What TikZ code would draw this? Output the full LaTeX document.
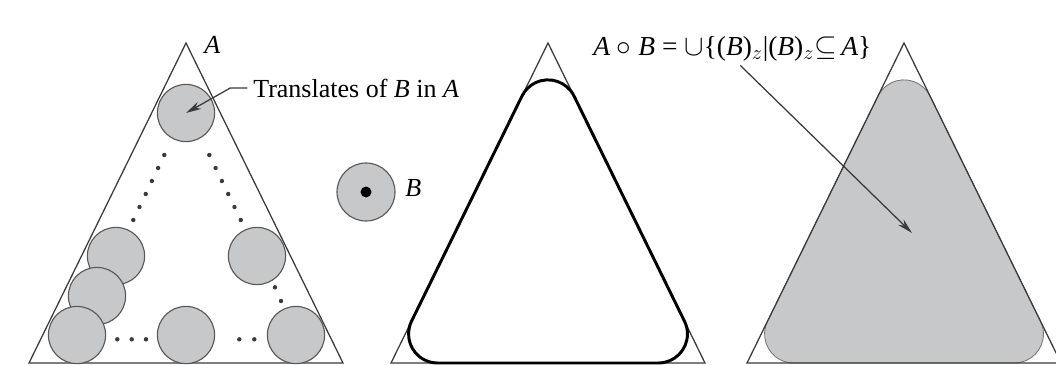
\documentclass[tikz,border=0pt]{standalone}
\usepackage{fontspec}
\setmainfont{Liberation Serif}
\usetikzlibrary{arrows.meta}
\definecolor{discgray}{HTML}{C6C8CA}
\definecolor{ink}{HTML}{3A3A3A}

\tikzset{
  side/.style={draw=ink, line width=0.9pt},
  disc/.style={circle, draw=ink!85, line width=0.8pt, fill=discgray, inner sep=0pt, minimum size=1.43cm},
  opening/.style={line width=2.1pt, line join=round},
  label/.style={font=\fontsize{18.5}{22}\selectfont, inner sep=0pt},
  pointer/.style={->, draw=ink, line width=0.9pt},
}

\begin{document}
\begin{tikzpicture}[x=0.025cm, y=0.025cm, >={Stealth[length=11pt,width=5.5pt]}]
  \useasboundingbox (0,0) rectangle (1056,364);

  % opening of A by B, filled (right)
  \filldraw[fill=discgray, draw=ink!70, line width=0.6pt, shift={(904,1)}]
    (-110.44,0) -- (110.44,0) arc[start angle=-90,end angle=26.13,radius=29]
    -- (26.04,266.91) arc[start angle=26.13,end angle=153.87,radius=29]
    -- (-136.48,41.77) arc[start angle=153.87,end angle=270,radius=29] -- cycle;

  % the set A, three times
  \foreach \cx in {186,548,904}
    \draw[side] (\cx-157,1) -- (\cx,321) -- (\cx+157,1) -- cycle;

  % boundary of the opening (middle)
  \draw[opening, shift={(548,1)}]
    (-110.44,0) -- (110.44,0) arc[start angle=-90,end angle=26.13,radius=29]
    -- (26.04,266.91) arc[start angle=26.13,end angle=153.87,radius=29]
    -- (-136.48,41.77) arc[start angle=153.87,end angle=270,radius=29] -- cycle;

  % translates of B inside A
  \node[disc] (t1) at (186,251) {};
  \node[disc] (t2) at (116,108) {};
  \node[disc] (t3) at (97,68) {};
  \node[disc] (t4) at (77,29) {};
  \node[disc] (t5) at (257,108) {};
  \node[disc] (t6) at (186,29) {};
  \node[disc] (t7) at (296,29) {};
  \foreach \i in {0,...,5} {
    \fill[ink] (164.3-6.2*\i,209-13*\i) circle[radius=2.2];
    \fill[ink] (209.3+6.3*\i,209-13*\i) circle[radius=2.2];
  }
  \foreach \x/\y in {275/76.7, 281/63, 117.3/24.7, 131.7/24.7, 146/24.7, 239.3/24.7, 254.3/24.7}
    \fill[ink] (\x,\y) circle[radius=2.2];

  % structuring element B
  \node[disc, minimum size=1.45cm] (b) at (366,172) {};
  \fill (b.center) circle[radius=5.5];
  \node[label, anchor=base west] (lb) at (405,168) {\textit{B}};

  % labels
  \node[label, anchor=base west] (la) at (204,311) {\textit{A}};
  \node[label, anchor=base west] (trans) at (253,267) {Translates of \textit{B} in \textit{A}};
  \node[label, font=\fontsize{19.5}{23}\selectfont, anchor=base west] (eq) at (593,309)
    {\textit{A} $\circ$ \textit{B} = $\cup$\{(\textit{B})$_z$|(\textit{B})$_z{\subseteq}$\,\textit{A}\}};
  \coordinate (tip) at (912,131);

  \draw[pointer] ([xshift=-4pt]trans.west) -- ++(-17,0) -- (t1.center);
  \draw[pointer] ([xshift=0.2cm,yshift=-3pt]eq.south) -- (tip);
\end{tikzpicture}
\end{document}
